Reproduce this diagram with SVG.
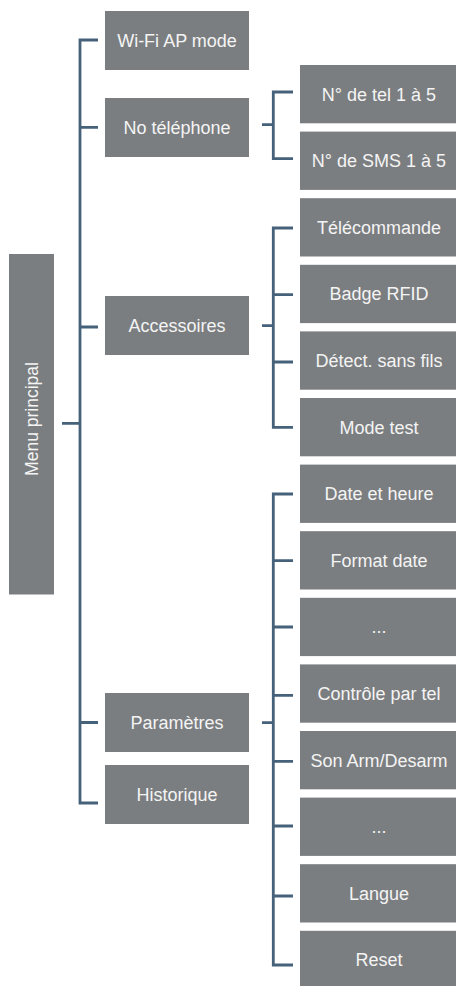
<svg xmlns="http://www.w3.org/2000/svg" width="456" height="986" viewBox="0 0 456 986">
<style>
.b{fill:#7b7e80}
.t{fill:#f4f4f4;font-family:"Liberation Sans",Arial,sans-serif;font-size:18px;text-anchor:middle}
.c{fill:none;stroke:#46617a;stroke-width:2.8}
</style>
<rect width="456" height="986" fill="#ffffff"/>
<g id="menu"><rect class="b" x="9" y="254" width="45" height="340.5"/><text class="t" transform="translate(38.3,419) rotate(-90)" x="0" y="0" style="font-size:17.5px">Menu principal</text></g>
<g id="wifi"><rect class="b" x="105" y="11" width="144" height="59"/><text class="t" x="177" y="47">Wi-Fi AP mode</text></g>
<g id="notel"><rect class="b" x="105" y="98" width="144" height="59"/><text class="t" x="177" y="134">No téléphone</text></g>
<g id="acc"><rect class="b" x="105" y="296" width="144" height="59"/><text class="t" x="177" y="332">Accessoires</text></g>
<g id="param"><rect class="b" x="105" y="693" width="144" height="59"/><text class="t" x="177" y="729">Paramètres</text></g>
<g id="hist"><rect class="b" x="105" y="765" width="144" height="59"/><text class="t" x="177" y="801">Historique</text></g>
<g id="tel"><rect class="b" x="300" y="65" width="160" height="58.3"/><text class="t" x="379" y="100.6">N° de tel 1 à 5</text></g>
<g id="sms"><rect class="b" x="300" y="131.6" width="160" height="58.3"/><text class="t" x="379" y="167.2">N° de SMS 1 à 5</text></g>
<g id="tele"><rect class="b" x="300" y="198.2" width="160" height="58.3"/><text class="t" x="379" y="233.8">Télécommande</text></g>
<g id="badge"><rect class="b" x="300" y="264.8" width="160" height="58.3"/><text class="t" x="379" y="300.4">Badge RFID</text></g>
<g id="detect"><rect class="b" x="300" y="331.4" width="160" height="58.3"/><text class="t" x="379" y="367">Détect. sans fils</text></g>
<g id="modetest"><rect class="b" x="300" y="398" width="160" height="58.3"/><text class="t" x="379" y="433.6">Mode test</text></g>
<g id="date"><rect class="b" x="300" y="464.6" width="160" height="58.3"/><text class="t" x="379" y="500.2">Date et heure</text></g>
<g id="format"><rect class="b" x="300" y="531.2" width="160" height="58.3"/><text class="t" x="379" y="566.8">Format date</text></g>
<g id="dots1"><rect class="b" x="300" y="597.8" width="160" height="58.3"/><text class="t" x="379" y="633.4">...</text></g>
<g id="ctrl"><rect class="b" x="300" y="664.4" width="160" height="58.3"/><text class="t" x="379" y="700">Contrôle par tel</text></g>
<g id="son"><rect class="b" x="300" y="731" width="160" height="58.3"/><text class="t" x="379" y="766.6">Son Arm/Desarm</text></g>
<g id="dots2"><rect class="b" x="300" y="797.6" width="160" height="58.3"/><text class="t" x="379" y="833.2">...</text></g>
<g id="langue"><rect class="b" x="300" y="864.2" width="160" height="58.3"/><text class="t" x="379" y="899.8">Langue</text></g>
<g id="reset"><rect class="b" x="300" y="930.8" width="160" height="58.3"/><text class="t" x="379" y="966.4">Reset</text></g>
<g id="connectors">
<path class="c" d="M98,40 H80 V803 H98 M80,127.3 H98 M80,327 H98 M80,722.5 H98 M62,423.3 H80"/>
<path class="c" d="M293,92 H273.3 V158.7 H293 M262,124.7 H273.3"/>
<path class="c" d="M293,228 H273.3 V427.3 H293 M273.3,294.7 H293 M273.3,362 H293 M262,325.7 H273.3"/>
<path class="c" d="M293,494 H273.3 V965 H293 M273.3,560.7 H293 M273.3,627 H293 M273.3,695.3 H293 M273.3,761.3 H293 M273.3,826 H293 M273.3,896 H293 M262,722.7 H273.3"/>
</g>
</svg>
